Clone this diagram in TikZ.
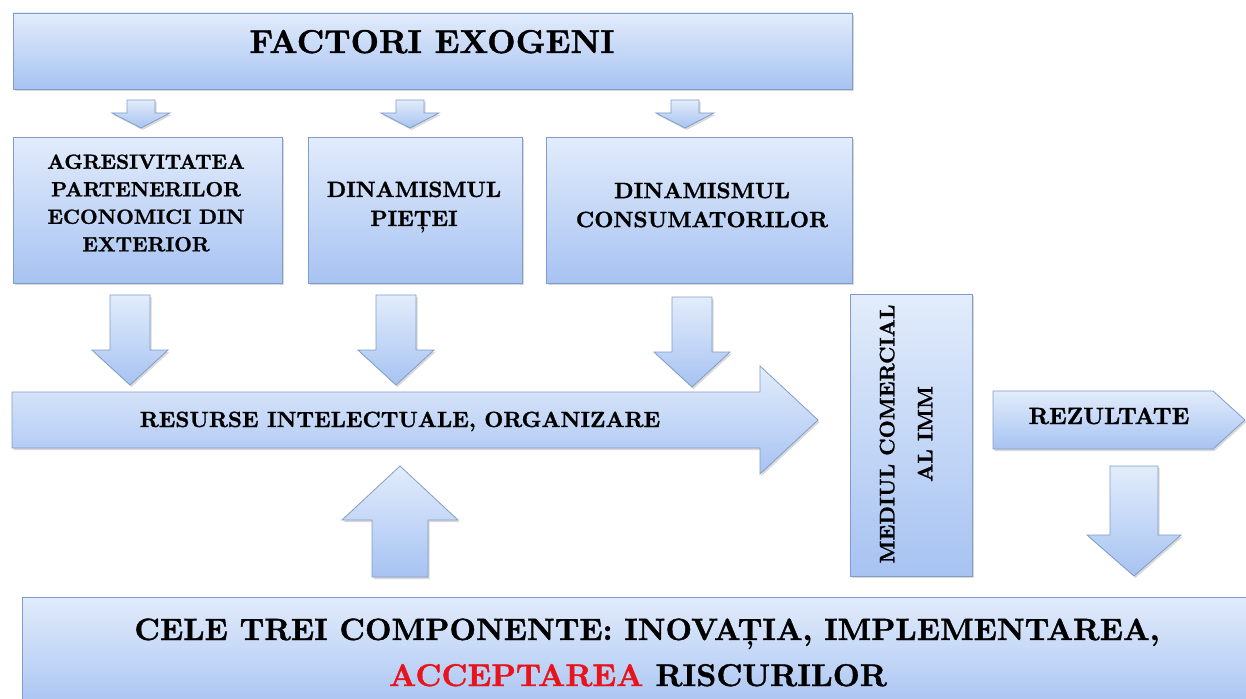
\documentclass[tikz,border=0pt]{standalone}
\usepackage{fontspec}
\newfontfamily\capfont{lmroman10-bold.otf}[FakeBold=1.2]
\usetikzlibrary{shadows}

\definecolor{boxtop}{HTML}{E2ECFB}
\definecolor{boxbot}{HTML}{A7C3F2}
\definecolor{boxline}{HTML}{809DC9}
\definecolor{riskred}{HTML}{E8131B}

\tikzset{
	panel/.style={draw=boxline, line width=0.8pt, top color=boxtop, bottom color=boxbot,
		drop shadow={shadow xshift=1.5pt, shadow yshift=-2pt, opacity=.3}},
	block/.style={panel, rectangle, inner sep=0pt},
	caption/.style={align=center, inner sep=0pt},
}

% block arrow pointing down: cx, top, head base, tip, shaft half, head half
\newcommand{\arrdown}[6]{%
	\draw[panel] (#1-#5,#2) -- (#1+#5,#2) -- (#1+#5,#3) -- (#1+#6,#3) -- (#1,#4)
		-- (#1-#6,#3) -- (#1-#5,#3) -- cycle;}

\begin{document}
\begin{tikzpicture}[x=1pt, y=-1pt]
	\useasboundingbox (0,0) rectangle (1246,698);
	% boxes
	\node[block, minimum width=839pt, minimum height=76pt] (exo) at (432.5,51) {};
	\node[block, minimum width=269pt, minimum height=146pt] (agr) at (147.5,210) {};
	\node[block, minimum width=214pt, minimum height=146pt] (pia) at (415,210) {};
	\node[block, minimum width=306pt, minimum height=146pt] (con) at (699,210) {};
	\node[block, minimum width=122pt, minimum height=282pt] (med) at (911,435) {};
	\node[block, minimum width=1240pt, minimum height=115pt] (com) at (642,654.5) {};

	% small arrows
	\arrdown{141}{100}{113}{128}{14}{29}
	\arrdown{410}{100}{113}{128}{14}{29}
	\arrdown{685}{100}{113}{128}{14}{29}
	% medium arrows
	\arrdown{130}{295}{350}{385}{20}{38}
	\arrdown{396}{295}{350}{385}{20}{38}
	\arrdown{692}{297}{352}{387}{20}{38}
	\arrdown{1134}{466}{535}{576}{24}{47}
	% up arrow
	\draw[panel] (372,577) -- (428,577) -- (428,520) -- (458,520) -- (400,466)
		-- (342,520) -- (372,520) -- cycle;
	% long arrow
	\draw[panel] (12,392) -- (760,392) -- (760,366) -- (818,420) -- (760,474)
		-- (760,448) -- (12,448) -- cycle;
	% result arrow
	\draw[panel] (993,391) -- (1213,391) -- (1245,420) -- (1213,449) -- (993,449) -- cycle;

	% texts
	\node[caption, font=\capfont\fontsize{33}{40}\selectfont, anchor=base] (exoT) at (432,53) {FACTORI EXOGENI};
	\node[caption, font=\capfont\fontsize{20.5}{27.5}\selectfont] (agrT) at (146,203)
		{AGRESIVITATEA\\PARTENERILOR\\ECONOMICI DIN\\EXTERIOR};
	\node[caption, font=\capfont\fontsize{22}{29}\selectfont] (piaT) at (414,207) {DINAMISMUL\\PIEȚEI};
	\node[caption, font=\capfont\fontsize{22.2}{29}\selectfont] (conT) at (702,205) {DINAMISMUL\\CONSUMATORILOR};
	\node[caption, font=\capfont\fontsize{22}{30}\selectfont, anchor=base] (resT) at (400,427)
		{RESURSE INTELECTUALE, ORGANIZARE};
	\node[caption, font=\capfont\fontsize{23.5}{30}\selectfont, anchor=base] (rezT) at (1109,424) {REZULTATE};
	\node[caption, font=\capfont\fontsize{21}{38}\selectfont, rotate=90] (medT) at (906,434)
		{MEDIUL COMERCIAL\\AL IMM};
	\node[caption, font=\capfont\fontsize{30.8}{40}\selectfont, anchor=base] (compT) at (647,640)
		{CELE TREI COMPONENTE: INOVAȚIA, IMPLEMENTAREA,};
	\node[caption, font=\capfont\fontsize{31.4}{40}\selectfont, anchor=base] (riskT) at (638,686)
		{{\color{riskred}ACCEPTAREA} RISCURILOR};
\end{tikzpicture}
\end{document}
